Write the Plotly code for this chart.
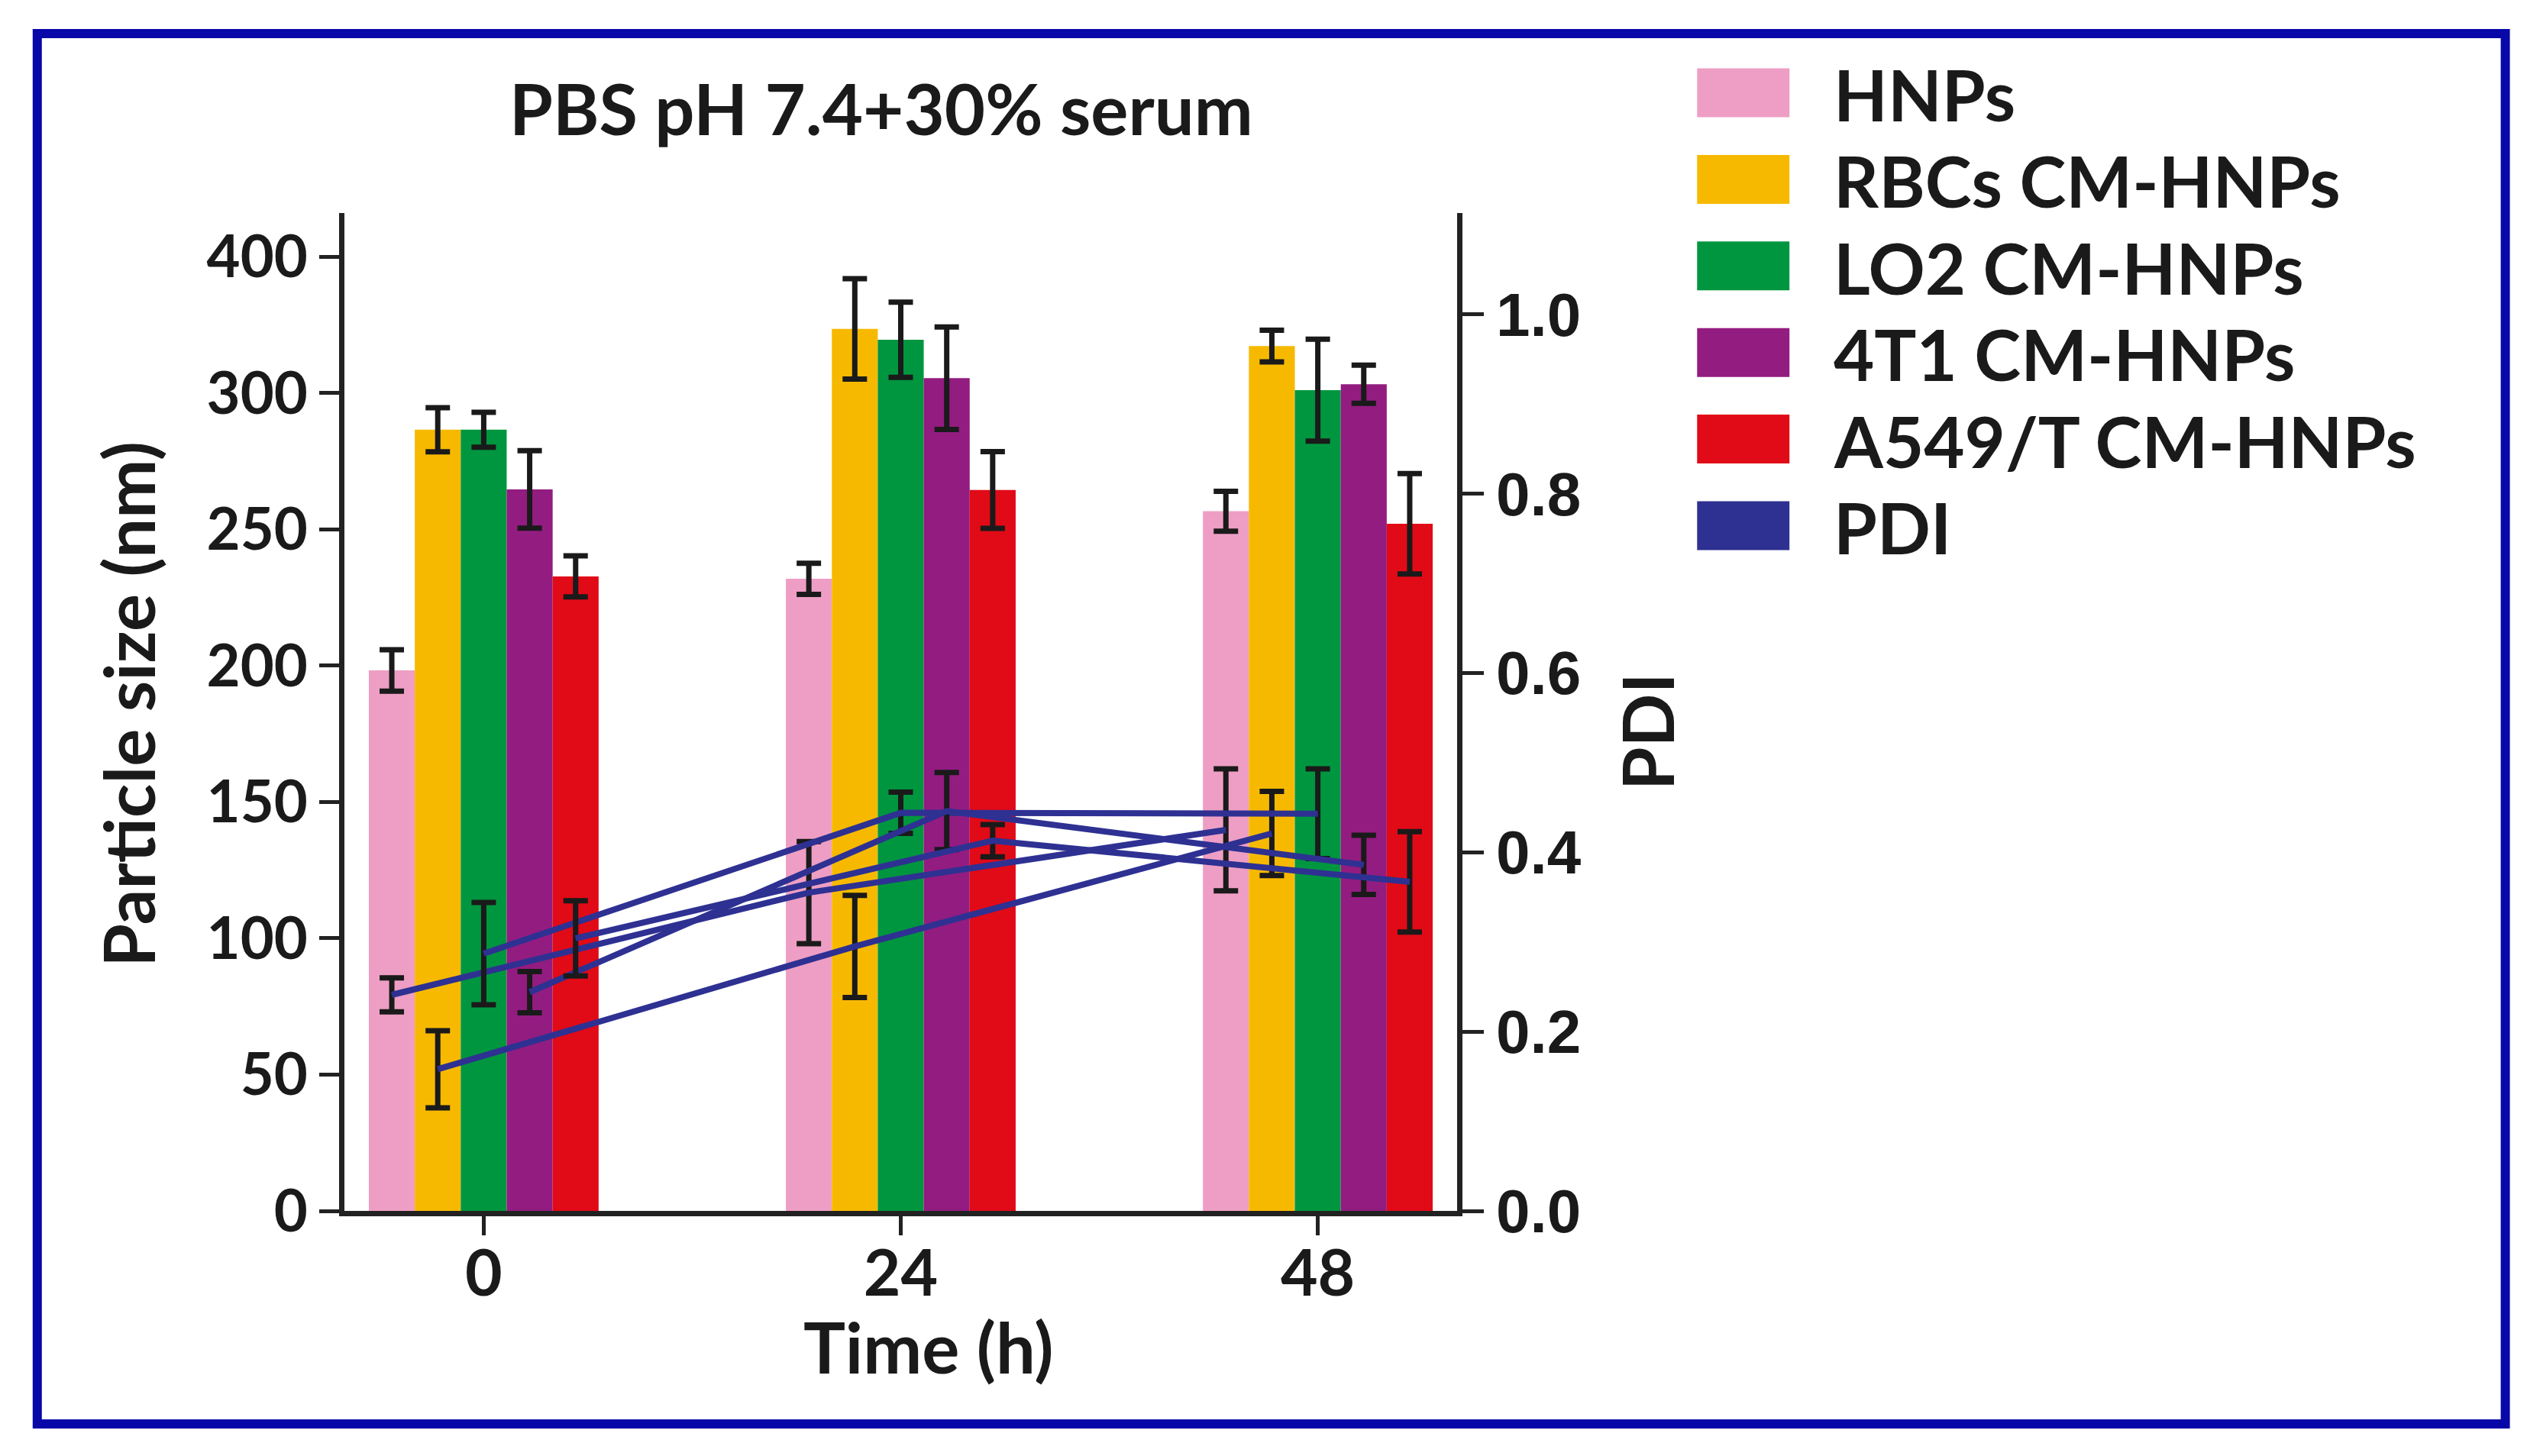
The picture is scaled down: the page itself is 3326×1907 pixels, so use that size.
import plotly.graph_objects as go

# ---------------------------------------------------------------- data
times = ["0", "24", "48"]
groups = ["HNPs", "RBCs CM-HNPs", "LO2 CM-HNPs", "4T1 CM-HNPs", "A549/T CM-HNPs"]
colors = ["#EE9EC4", "#F7B900", "#00963F", "#931C80", "#E10A17"]
pdi_name = "PDI"
pdi_color = "#2E3192"

# particle size (nm) per group, at 0 / 24 / 48 h
size_nm = [
    [198.3, 231.9, 256.7],
    [286.6, 323.6, 317.3],
    [286.6, 319.6, 301.1],
    [264.7, 305.5, 303.3],
    [232.8, 264.5, 252.1],
]
size_err = [
    [7.6, 5.7, 7.3],
    [8.1, 18.4, 5.8],
    [6.4, 13.8, 18.7],
    [14.2, 18.8, 7.0],
    [7.5, 14.1, 18.4],
]

# PDI per group, at 0 / 24 / 48 h
pdi = [
    [0.241, 0.355, 0.425],
    [0.158, 0.295, 0.421],
    [0.287, 0.444, 0.443],
    [0.244, 0.446, 0.386],
    [0.304, 0.413, 0.367],
]
pdi_err = [
    [0.019, 0.057, 0.068],
    [0.043, 0.057, 0.047],
    [0.057, 0.023, 0.050],
    [0.023, 0.043, 0.033],
    [0.042, 0.018, 0.056],
]

size_ticks = [0, 50, 100, 150, 200, 250, 300, 350]
size_ticktext = ["0", "50", "100", "150", "200", "250", "300", "400"]
pdi_ticks = [0.0, 0.2, 0.4, 0.6, 0.8, 1.0]

# ---------------------------------------------------------------- layout constants
W, H = 3326, 1907
PL, PR, PT, PB = 450.5, 1908.5, 279, 1586  # plot area in pixels
BARGAP = 0.449
INK = "#1a1a1a"
FONT = "Lato"


def px(x):
    return (x - PL) / (PR - PL)


def py(y):
    return (PB - y) / (PB - PT)


xpos = list(range(len(times)))
bw = (1 - BARGAP) / len(groups)

fig = go.Figure()

for k, g in enumerate(groups):
    fig.add_trace(
        go.Bar(
            x=xpos,
            y=size_nm[k],
            name=g,
            marker=dict(color=colors[k], line=dict(width=0)),
            error_y=dict(type="data", array=size_err[k], color=INK, thickness=7, width=16),
            showlegend=False,
        )
    )

# PDI lines sit at the centre of each group's bar
for k, g in enumerate(groups):
    off = (k - (len(groups) - 1) / 2) * bw
    fig.add_trace(
        go.Scatter(
            x=[i + off for i in xpos],
            y=pdi[k],
            name=pdi_name + " " + g,
            mode="lines",
            line=dict(color=pdi_color, width=8),
            error_y=dict(type="data", array=pdi_err[k], color=INK, thickness=7, width=16),
            yaxis="y2",
            showlegend=False,
        )
    )

axis_common = dict(
    showline=True,
    linewidth=7,
    linecolor="#222222",
    ticks="outside",
    tickwidth=5,
    tickcolor="#222222",
    showgrid=False,
    zeroline=False,
)

fig.update_layout(
    width=W,
    height=H,
    margin=dict(l=PL, r=W - PR, t=PT, b=H - PB, autoexpand=False),
    paper_bgcolor="white",
    plot_bgcolor="white",
    barmode="group",
    bargap=BARGAP,
    bargroupgap=0,
    showlegend=False,
    font=dict(family=FONT, color=INK, weight="bold"),
    xaxis=dict(
        range=[-0.334, 2.334],
        tickvals=xpos,
        ticktext=times,
        ticklen=25,
        ticklabelstandoff=-22,
        tickfont=dict(family=FONT, size=84, color=INK, weight="bold"),
        **axis_common,
    ),
    yaxis=dict(
        range=[0, 366.1],
        tickvals=size_ticks,
        ticktext=size_ticktext,
        ticklen=26,
        tickfont=dict(family=FONT, size=76, color=INK, weight="bold"),
        **axis_common,
    ),
    yaxis2=dict(
        overlaying="y",
        side="right",
        range=[0, 1.113],
        tickvals=pdi_ticks,
        tickformat=".1f",
        ticklen=28,
        tickfont=dict(family="Liberation Sans", size=80, color=INK, weight="bold"),
        **axis_common,
    ),
)

annotations = [
    dict(text="PBS pH 7.4+30% serum", x=px(1154), y=py(141), size=92),
    dict(text="Time (h)", x=px(1216), y=py(1763), size=92),
    dict(text="Particle size (nm)", x=px(166), y=py(922), size=92, angle=-90),
    dict(text="PDI", x=px(2157), y=py(958), size=92, angle=-90),
]
for a in annotations:
    fig.add_annotation(
        text=a["text"],
        x=a["x"],
        y=a["y"],
        xref="paper",
        yref="paper",
        xanchor="center",
        yanchor="middle",
        textangle=a.get("angle", 0),
        showarrow=False,
        font=dict(family=FONT, size=a["size"], color=INK, weight="bold"),
    )

# hand-made legend: big colour boxes and labels
legend_names = groups + [pdi_name]
legend_colors = colors + [pdi_color]
row0, step = 121.5, 113.4
for j, (nm, c) in enumerate(zip(legend_names, legend_colors)):
    yc = row0 + j * step
    fig.add_shape(
        type="rect",
        xref="paper",
        yref="paper",
        x0=px(2223),
        x1=px(2344),
        y0=py(yc + 32),
        y1=py(yc - 32),
        fillcolor=c,
        line=dict(width=0),
    )
    fig.add_annotation(
        text=nm,
        x=px(2400),
        y=py(yc + 2),
        xref="paper",
        yref="paper",
        xanchor="left",
        yanchor="middle",
        showarrow=False,
        font=dict(family=FONT, size=92, color=INK, weight="bold"),
    )

# blue frame round the whole figure
fig.add_shape(
    type="rect",
    xref="paper",
    yref="paper",
    x0=px(48),
    x1=px(3282),
    y0=py(1865),
    y1=py(44),
    line=dict(color="#0808A8", width=12),
    fillcolor="rgba(0,0,0,0)",
    layer="above",
)

fig.write_html(
    "out.html",
    config={"displayModeBar": False},
    post_script="document.body.style.margin='0';",
)
